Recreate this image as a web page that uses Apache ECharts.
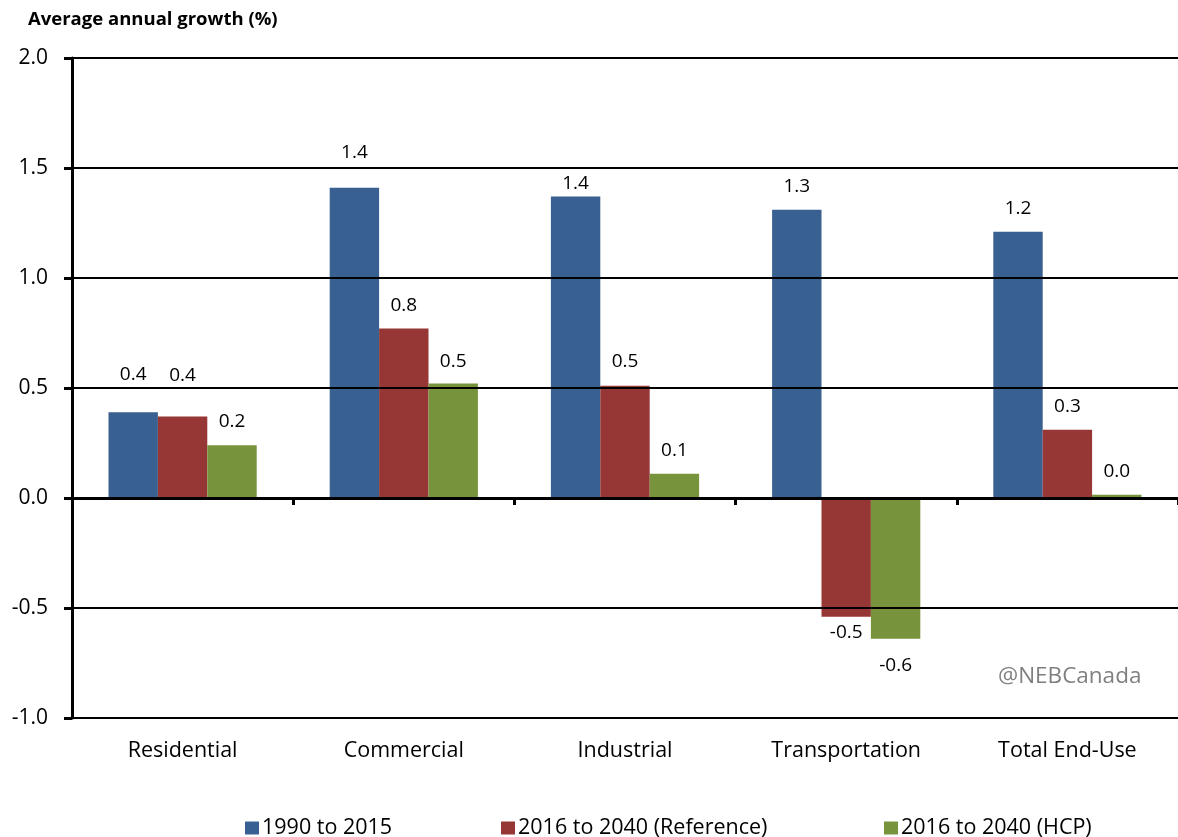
<!DOCTYPE html>
<html>
<head>
<meta charset="utf-8">
<script src="https://cdn.jsdelivr.net/npm/echarts@6/dist/echarts.min.js"></script>
<style>
html,body{margin:0;padding:0;background:#fff;}
#chart{width:1178px;height:837px;}
</style>
</head>
<body>
<div id="chart"></div>
<script>
// ---- data ----
var categories = ['Residential', 'Commercial', 'Industrial', 'Transportation', 'Total End-Use'];
var seriesNames = ['1990 to 2015', '2016 to 2040 (Reference)', '2016 to 2040 (HCP)'];
var hist = [0.39, 1.41, 1.37, 1.31, 1.21];
var refCase = [0.37, 0.77, 0.51, -0.54, 0.31];
var hcp = [0.24, 0.52, 0.11, -0.64, 0.015];
var yTicks = [-1.0, -0.5, 0.0, 0.5, 1.0, 1.5, 2.0];

// ---- styling ----
var FONT = 'Open Sans';
var colors = ['#386192', '#963735', '#77933C'];
var labelGaps = [
  [28, 26, 4, 14, 14],
  [32, 14, 15, 6, 14],
  [14, 13, 14, 17, 14]
];
var legendLefts = [240, 496, 879];

function buildData(values, gaps) {
  return values.map(function (v, i) {
    return {
      value: v,
      label: { position: v < 0 ? 'bottom' : 'top', distance: gaps[i] }
    };
  });
}

var allValues = [hist, refCase, hcp];
var series = allValues.map(function (vals, k) {
  return {
    name: seriesNames[k],
    type: 'bar',
    xAxisIndex: 0,
    barGap: '0%',
    barCategoryGap: '33%',
    itemStyle: { color: colors[k] },
    label: {
      show: true,
      fontFamily: FONT,
      fontSize: 19,
      color: '#000',
      formatter: function (p) { return p.value.toFixed(1); }
    },
    data: buildData(vals, labelGaps[k]),
    z: 1
  };
});

var legends = seriesNames.map(function (n, k) {
  return {
    data: [n],
    left: legendLefts[k],
    top: 812,
    itemWidth: 14,
    itemHeight: 13,
    itemGap: 0,
    icon: 'rect',
    textStyle: { fontFamily: FONT, fontSize: 21.5, color: '#000', padding: [0, 0, 0, -2] }
  };
});

var chart = echarts.init(document.getElementById('chart'), null, { renderer: 'canvas' });
chart.setOption({
  animation: false,
  backgroundColor: '#fff',
  title: {
    text: 'Average annual growth (%)',
    left: 23,
    top: 5,
    textStyle: { fontFamily: FONT, fontSize: 18.5, fontWeight: 'bold', color: '#000' }
  },
  legend: legends,
  grid: { left: 72, width: 1112, top: 58, height: 660, containLabel: false },
  graphic: [{
    type: 'text',
    left: 998,
    top: 665,
    style: { text: '@NEBCanada', fontFamily: FONT, fontSize: 22.5, fill: '#808080' }
  }],
  xAxis: [{
    type: 'category',
    data: categories,
    boundaryGap: true,
    axisLine: { show: true, onZero: true, lineStyle: { color: '#000', width: 3 } },
    axisTick: { show: true, length: 7, lineStyle: { color: '#000', width: 3 } },
    axisLabel: { show: false },
    z: 5
  }, {
    type: 'category',
    data: categories,
    position: 'bottom',
    boundaryGap: true,
    axisLine: { show: false, onZero: false },
    axisTick: { show: false },
    axisLabel: { show: true, margin: 22, fontFamily: FONT, fontSize: 21.5, color: '#000' }
  }],
  yAxis: {
    type: 'value',
    min: yTicks[0],
    max: yTicks[yTicks.length - 1],
    interval: 0.5,
    axisLine: { show: true, lineStyle: { color: '#000', width: 3 } },
    axisTick: { show: true, inside: false, length: 8, lineStyle: { color: '#000', width: 3 } },
    splitLine: { show: true, lineStyle: { color: '#000', width: 2 } },
    axisLabel: {
      margin: 24,
      fontFamily: FONT,
      fontSize: 21,
      color: '#000',
      formatter: function (v) { return v.toFixed(1); }
    },
    z: 5
  },
  series: series
});
</script>
</body>
</html>
